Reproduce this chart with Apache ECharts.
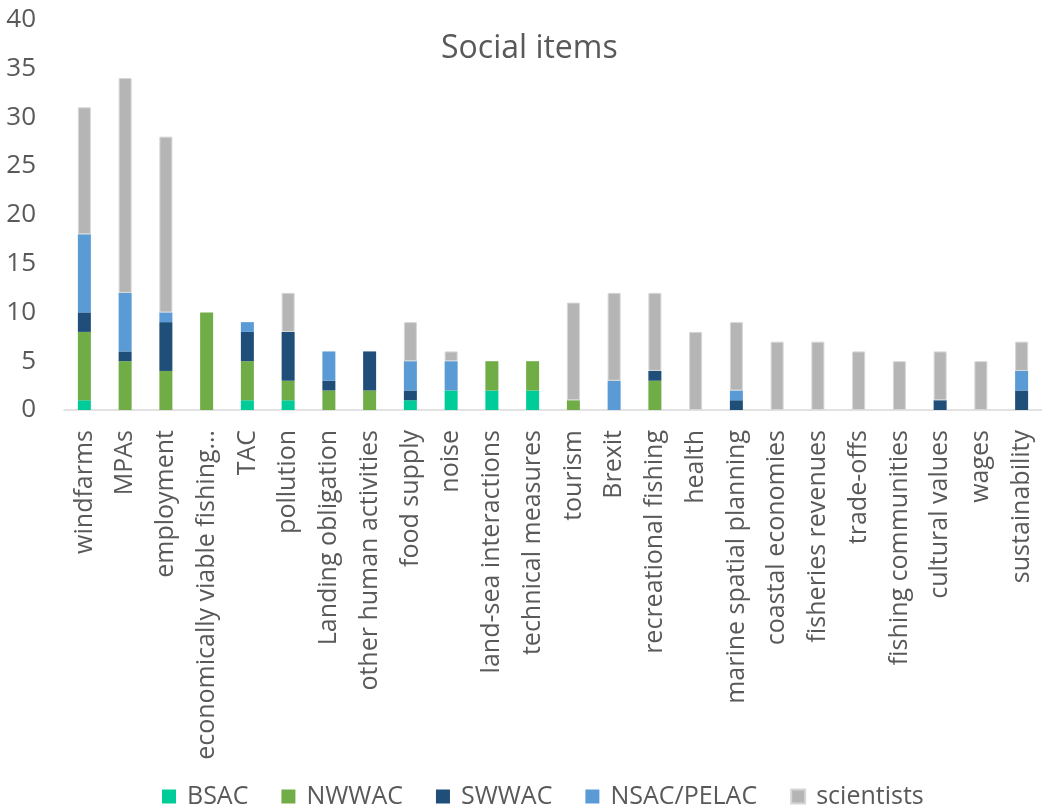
<!DOCTYPE html>
<html>
<head>
<meta charset="utf-8">
<script src="https://cdn.jsdelivr.net/npm/echarts@6/dist/echarts.min.js"></script>
<style>
  html, body { margin: 0; padding: 0; background: #fff; }
  #container { width: 1042px; height: 809px; }
</style>
</head>
<body>
<div id="container"></div>
<script>
var categories = ['windfarms', 'MPAs', 'employment', 'economically viable fishing…', 'TAC', 'pollution',
    'Landing obligation', 'other human activities', 'food supply', 'noise', 'land-sea interactions',
    'technical measures', 'tourism', 'Brexit', 'recreational fishing', 'health', 'marine spatial planning',
    'coastal economies', 'fisheries revenues', 'trade-offs', 'fishing communities', 'cultural values',
    'wages', 'sustainability'];

var bsac =       [1, 0, 0, 0, 1, 1, 0, 0, 1, 2, 2, 2, 0, 0, 0, 0, 0, 0, 0, 0, 0, 0, 0, 0];
var nwwac =      [7, 5, 4, 10, 4, 2, 2, 2, 0, 0, 3, 3, 1, 0, 3, 0, 0, 0, 0, 0, 0, 0, 0, 0];
var swwac =      [2, 1, 5, 0, 3, 5, 1, 4, 1, 0, 0, 0, 0, 0, 1, 0, 1, 0, 0, 0, 0, 1, 0, 2];
var nsacPelac =  [8, 6, 1, 0, 1, 0, 3, 0, 3, 3, 0, 0, 0, 3, 0, 0, 1, 0, 0, 0, 0, 0, 0, 2];
var scientists = [13, 22, 18, 0, 0, 4, 0, 0, 4, 1, 0, 0, 10, 9, 8, 8, 7, 7, 7, 6, 5, 5, 5, 3];

var yTicks = { min: 0, max: 40, interval: 5 };

var dom = document.getElementById('container');
var myChart = echarts.init(dom);
var option;

var textColor = '#595959';
var font = '"Open Sans", sans-serif';

function barSeries(name, data, color, border) {
    // empty segments are left out so that no border line is drawn for them
    var s = {
        name: name,
        type: 'bar',
        stack: 'total',
        barWidth: 13,
        data: data.map(function (v) { return v === 0 ? '-' : v; }),
        itemStyle: { color: color }
    };
    if (border) {
        s.itemStyle.borderColor = border;
        s.itemStyle.borderWidth = 1;
    }
    return s;
}

option = {
    animation: false,
    textStyle: { fontFamily: font },
    title: {
        text: 'Social items',
        left: 436,
        top: 28,
        textStyle: { fontFamily: font, fontSize: 32, fontWeight: 'normal', color: textColor }
    },
    legend: {
        bottom: -5,
        left: 157,
        itemWidth: 14,
        itemHeight: 14,
        itemGap: 33,
        icon: 'rect',
        textStyle: { fontFamily: font, fontSize: 25, color: textColor, padding: [0, 0, 0, 6] },
        data: ['BSAC', 'NWWAC', 'SWWAC', 'NSAC/PELAC', 'scientists']
    },
    grid: {
        left: 64,
        right: -10,
        top: 19.5,
        bottom: 399
    },
    xAxis: {
        type: 'category',
        data: categories,
        axisLine: { lineStyle: { color: '#d9d9d9', width: 1.5 } },
        axisTick: { show: false },
        axisLabel: {
            rotate: 90,
            interval: 0,
            margin: 20,
            fontFamily: font,
            fontSize: 25,
            color: textColor
        }
    },
    yAxis: {
        type: 'value',
        min: yTicks.min,
        max: yTicks.max,
        interval: yTicks.interval,
        splitLine: { show: false },
        axisLine: { show: false },
        axisTick: { show: false },
        axisLabel: { margin: 28, fontFamily: font, fontSize: 26, color: textColor }
    },
    series: [
        barSeries('BSAC', bsac, '#00cc99'),
        barSeries('NWWAC', nwwac, '#70ad47'),
        barSeries('SWWAC', swwac, '#1f4e79'),
        barSeries('NSAC/PELAC', nsacPelac, '#5b9bd5'),
        barSeries('scientists', scientists, '#b5b5b5', '#d6d6d6')
    ]
};

myChart.setOption(option);
</script>
</body>
</html>
